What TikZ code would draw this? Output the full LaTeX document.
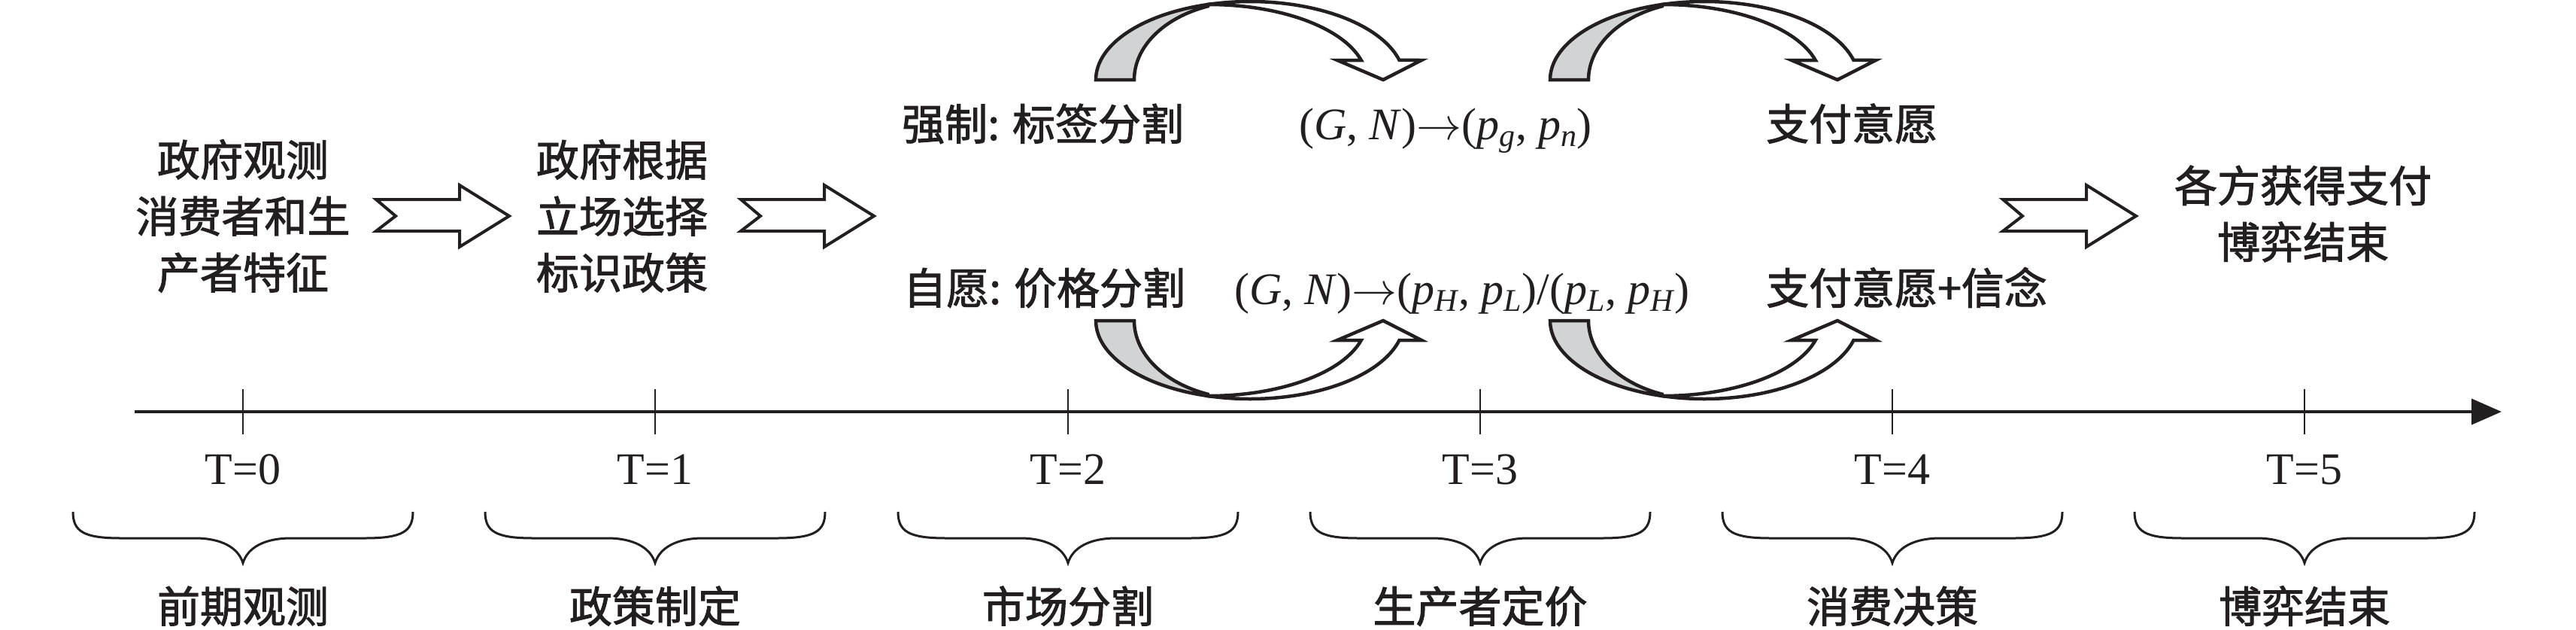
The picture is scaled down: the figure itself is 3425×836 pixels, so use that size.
\RequirePackage{fix-cm}
\documentclass[tikz,border=0pt]{standalone}
\usepackage{fontspec}
\setmainfont{Liberation Serif}
\newfontfamily\cjk[FakeBold=1.8]{Noto Sans CJK SC}
\usetikzlibrary{arrows.meta}
\definecolor{ink}{RGB}{35,31,32}
\definecolor{bandgray}{RGB}{209,211,212}
\newcommand{\bandarrow}{%
  \filldraw[band, fill=white] ([shift={(205,0)}]105.6:205 and 104)
     arc[start angle=105.6, end angle=14.5, x radius=205, y radius=104]
     -- (433,26) -- (382,0) -- (321,26) -- (352.8,26)
     arc[start angle=15.07, end angle=90, x radius=210, y radius=100] -- cycle;
  \filldraw[band, fill=bandgray] (0,0)
     arc[start angle=180, end angle=105.6, x radius=205, y radius=104]
     -- ([shift={(200,0)}]110:149 and 104)
     arc[start angle=110, end angle=180, x radius=149, y radius=104] -- cycle;
}
\newcommand{\blkarrow}[1]{%
  \filldraw[blk, shift={(#1,-287)}] (0,22) -- (111,22) -- (111,41) -- (177,0)
     -- (111,-41) -- (111,-20) -- (0,-20) -- (26,0) -- cycle;
}
\begin{document}
\begin{tikzpicture}[x=1pt,y=1pt,color=ink,
  cjktxt/.style={font=\cjk\fontsize{57}{75}\selectfont, inner sep=0pt, align=center, text=ink},
  lattxt/.style={font=\fontsize{60}{70}\selectfont, inner sep=0pt, text=ink},
  blk/.style={draw=ink, line width=4pt, fill=white, line join=miter},
  band/.style={draw=ink, line width=4.5pt, line join=miter},
  tickline/.style={draw=ink, line width=2.5pt},
  bracepath/.style={draw=ink, line width=3pt},
  axisline/.style={draw=ink, line width=4pt, -{Triangle[length=40pt,width=34pt]}},
]
\useasboundingbox (0,0) rectangle (3425,-836);

% axis
\coordinate (axs) at (179,-547);
\coordinate (axe) at (3326,-547);
\draw[axisline] (axs) -- (axe);

\foreach \i/\x/\lab in {0/323/前期观测,1/871/政策制定,2/1420/市场分割,3/1968/生产者定价,4/2516/消费决策,5/3064/博弈结束}{
  \coordinate (tk\i) at (\x,-547);
  \draw[tickline] (\x,-517) -- (\x,-577);
  \node[lattxt, anchor=base] (tl\i) at (\x,-643) {T=\i};
  \draw[bracepath] (\x-226,-680) .. controls (\x-226,-706) and (\x-212,-715) .. (\x-162,-715)
     -- (\x-64,-715) .. controls (\x-28,-715) and (\x-6,-728) .. (\x,-748)
     .. controls (\x+6,-728) and (\x+28,-715) .. (\x+64,-715)
     -- (\x+162,-715) .. controls (\x+212,-715) and (\x+226,-706) .. (\x+226,-680);
  \node[cjktxt, anchor=base] (bl\i) at (\x,-827) {\lab};
}

% left blocks
\node[cjktxt] (obs) at (323,-287) {政府观测\\消费者和生\\产者特征};
\node[cjktxt] (pol) at (827,-287) {政府根据\\立场选择\\标识政策};
\node[cjktxt] (end) at (3062,-284) {各方获得支付\\博弈结束};

\blkarrow{500}
\blkarrow{985}
\blkarrow{2663}

% top row
\node[cjktxt, anchor=base west] (forced) at (1199,-186) {强制: 标签分割};
\node[lattxt, anchor=base] (f1) at (1922,-185) {(\textit{G}, \textit{N})$\rightarrow$(\textit{p}\textsubscript{\textit{g}}, \textit{p}\textsubscript{\textit{n}})};
\node[cjktxt, anchor=base west] (wtp) at (2348,-186) {支付意愿};

% bottom row
\node[cjktxt, anchor=base west] (vol) at (1201,-404) {自愿: 价格分割};
\node[lattxt, anchor=base] (f2) at (1944,-404) {(\textit{G}, \textit{N})$\rightarrow$(\textit{p}\textsubscript{\textit{H}}, \textit{p}\textsubscript{\textit{L}})/(\textit{p}\textsubscript{\textit{L}}, \textit{p}\textsubscript{\textit{H}})};
\node[cjktxt, anchor=base west] (wtpb) at (2348,-404) {支付意愿+信念};

% curved arrows
\begin{scope}[shift={(1457,-106)}]\bandarrow\end{scope}
\begin{scope}[shift={(2061,-106)}]\bandarrow\end{scope}
\begin{scope}[shift={(1457,-426)},yscale=-1]\bandarrow\end{scope}
\begin{scope}[shift={(2061,-426)},yscale=-1]\bandarrow\end{scope}
\end{tikzpicture}
\end{document}
